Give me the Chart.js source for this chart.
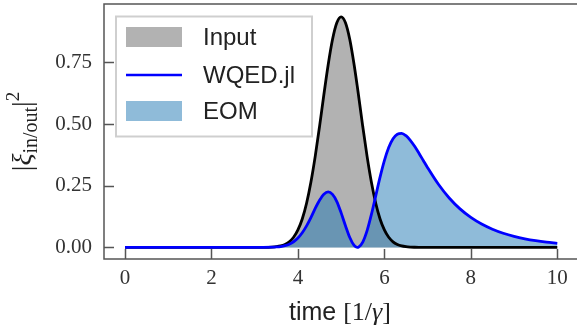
<!DOCTYPE html>
<html>
<head>
<meta charset="utf-8">
<script src="https://cdn.jsdelivr.net/npm/chart.js"></script>
<style>
  html, body { margin: 0; padding: 0; background: #fff; overflow: hidden; }
</style>
</head>
<body>
<canvas id="pulseChart" width="577" height="334"></canvas>
<script>
// time axis in units of 1/gamma
var times = [0, 1, 2, 3, 3.2, 3.4, 3.5,
    3.6, 3.7, 3.8, 3.9, 4.0, 4.1, 4.2, 4.3, 4.4, 4.5, 4.6, 4.7, 4.8, 4.9,
    5.0, 5.1, 5.2, 5.3, 5.37, 5.4, 5.5, 5.6, 5.7, 5.8, 5.9,
    6.0, 6.1, 6.2, 6.3, 6.4, 6.5, 6.6, 6.7, 6.8, 6.9, 7.0,
    7.25, 7.5, 7.75, 8, 8.25, 8.5, 8.75, 9, 9.25, 9.5, 9.75, 10];

// |xi_in|^2
var inputValues = [0, 0, 0, 0, 0.0002, 0.0013, 0.0028,
    0.0059, 0.0119, 0.0227, 0.041, 0.0707, 0.115, 0.179, 0.264, 0.369, 0.490, 0.619, 0.741, 0.843, 0.911,
    0.935, 0.911, 0.843, 0.741, 0.657, 0.619, 0.490, 0.369, 0.264, 0.179, 0.115,
    0.0707, 0.041, 0.0227, 0.0119, 0.0059, 0.0028, 0.0013, 0.0006, 0.0002, 0.0001, 0,
    0, 0, 0, 0, 0, 0, 0, 0, 0, 0, 0, 0];

// |xi_out|^2 from WQED.jl
var wqedValues = [0, 0, 0, 0, 0.0001, 0.0008, 0.0018,
    0.0036, 0.0071, 0.0131, 0.0230, 0.0380, 0.0595, 0.0875, 0.1210, 0.158, 0.191, 0.216, 0.225, 0.215, 0.186,
    0.140, 0.088, 0.040, 0.0078, 0, 0.0009, 0.0217, 0.0680, 0.1336, 0.2091, 0.2848,
    0.3519, 0.4049, 0.4407, 0.4592, 0.4624, 0.4529, 0.4344, 0.4098, 0.3818, 0.3525, 0.3233,
    0.2559, 0.2004, 0.1562, 0.1217, 0.0948, 0.0738, 0.0575, 0.0448, 0.0349, 0.0272, 0.0212, 0.0165];

// EOM solution lies on top of the WQED.jl curve
var eomValues = wqedValues.slice();

var xTicks = [0, 2, 4, 6, 8, 10];
var yTicks = [0, 0.25, 0.5, 0.75];
var legendLabels = ['Input', 'WQED.jl', 'EOM'];

var gray = 'rgba(0, 0, 0, 0.3)';
var lightBlue = 'rgba(31, 119, 180, 0.5)';

function points(vals) {
    return times.map(function (t, i) { return { x: t, y: vals[i] }; });
}

// spines, inward ticks, legend and axis titles
var decorations = {
    id: 'decorations',
    afterDraw: function (chart) {
        var ctx = chart.ctx, a = chart.chartArea;
        var xs = chart.scales.x, ys = chart.scales.y;
        ctx.save();

        // left, top and bottom spines (right one falls just outside the picture)
        ctx.strokeStyle = '#555';
        ctx.lineWidth = 1.5;
        ctx.beginPath();
        ctx.moveTo(chart.width, a.top); ctx.lineTo(a.left, a.top);
        ctx.lineTo(a.left, a.bottom); ctx.lineTo(chart.width, a.bottom);
        ctx.stroke();
        ctx.beginPath();
        xTicks.forEach(function (v) {
            var px = Math.round(xs.getPixelForValue(v)) + 0.5;
            ctx.moveTo(px, a.bottom); ctx.lineTo(px, a.bottom - 10);
        });
        yTicks.forEach(function (v) {
            var py = Math.round(ys.getPixelForValue(v)) + 0.5;
            ctx.moveTo(a.left, py); ctx.lineTo(a.left + 10, py);
        });
        ctx.stroke();

        // legend
        ctx.fillStyle = '#fff';
        ctx.fillRect(116, 16.5, 196, 120);
        ctx.strokeStyle = '#cfcfcf';
        ctx.lineWidth = 2;
        ctx.strokeRect(116, 16.5, 196, 120);

        ctx.fillStyle = gray;
        ctx.fillRect(126, 27, 56, 20);
        ctx.strokeStyle = '#0000ff';
        ctx.lineWidth = 2.5;
        ctx.beginPath();
        ctx.moveTo(126, 75); ctx.lineTo(182, 75);
        ctx.stroke();
        ctx.fillStyle = lightBlue;
        ctx.fillRect(126, 101, 56, 20);

        ctx.fillStyle = '#222';
        ctx.font = '24px "Liberation Sans"';
        ctx.textBaseline = 'middle';
        ctx.textAlign = 'left';
        [37, 75, 111].forEach(function (y, i) {
            ctx.fillText(legendLabels[i], 203, y + 1);
        });

        // x title
        var xParts = [
            { t: 'time ', f: '25px "Liberation Sans"', dy: 0 },
            { t: '[1/', f: '26px "Liberation Serif"', dy: 0 },
            { t: 'γ', f: 'italic 26px "Liberation Serif"', dy: 0 },
            { t: ']', f: '26px "Liberation Serif"', dy: 0 }
        ];
        ctx.textBaseline = 'alphabetic';
        drawParts(ctx, xParts, 340, 320);

        // y title, rotated
        var yParts = [
            { t: '|', f: '28px "Liberation Serif"', dy: 0 },
            { t: 'ξ', f: 'italic 28px "Liberation Serif"', dy: 0 },
            { t: 'in/out', f: '20px "Liberation Serif"', dy: 6 },
            { t: '|', f: '28px "Liberation Serif"', dy: 0 },
            { t: '2', f: '19px "Liberation Serif"', dy: -12 }
        ];
        ctx.translate(31, (a.top + a.bottom) / 2);
        ctx.rotate(-Math.PI / 2);
        drawParts(ctx, yParts, 0, 0);

        ctx.restore();
    }
};

function drawParts(ctx, parts, cx, y) {
    var total = 0;
    parts.forEach(function (p) { ctx.font = p.f; p.w = ctx.measureText(p.t).width; total += p.w; });
    var x = cx - total / 2;
    ctx.fillStyle = '#222';
    ctx.textAlign = 'left';
    parts.forEach(function (p) {
        ctx.font = p.f;
        ctx.fillText(p.t, x, y + p.dy);
        x += p.w;
    });
}

var ctx = document.getElementById('pulseChart').getContext('2d');

var chart = new Chart(ctx, {
    type: 'line',
    data: {
        datasets: [{
            label: 'Input fill',
            data: points(inputValues),
            backgroundColor: gray,
            borderColor: 'rgba(0,0,0,0)',
            borderWidth: 0,
            fill: 'origin',
            order: 4
        }, {
            label: 'EOM',
            data: points(eomValues),
            backgroundColor: lightBlue,
            borderColor: 'rgba(0,0,0,0)',
            borderWidth: 0,
            fill: 'origin',
            order: 3
        }, {
            label: 'Input',
            data: points(inputValues),
            borderColor: '#000',
            borderWidth: 2.8,
            fill: false,
            order: 2
        }, {
            label: 'WQED.jl',
            data: points(wqedValues),
            borderColor: '#0000ff',
            borderWidth: 2.8,
            fill: false,
            order: 1
        }]
    },
    options: {
        responsive: false,
        animation: false,
        devicePixelRatio: 1,
        layout: { padding: { left: 0, top: 4, right: 0, bottom: 0 } },
        elements: {
            point: { radius: 0 },
            line: { cubicInterpolationMode: 'monotone', borderJoinStyle: 'round' }
        },
        plugins: {
            legend: { display: false },
            tooltip: { enabled: false }
        },
        scales: {
            x: {
                type: 'linear',
                min: -0.486,
                max: 10.456,
                afterBuildTicks: function (s) { s.ticks = xTicks.map(function (v) { return { value: v }; }); },
                afterFit: function (s) {
                    s.height = 75;
                    s.paddingLeft = 0; s.paddingRight = 0;
                },
                grid: { display: false, drawTicks: false },
                border: { display: false },
                ticks: {
                    padding: 7,
                    color: '#333',
                    font: { family: '"Liberation Serif"', size: 21 },
                    maxRotation: 0
                }
            },
            y: {
                min: -0.047,
                max: 0.987,
                afterBuildTicks: function (s) { s.ticks = yTicks.map(function (v) { return { value: v }; }); },
                afterFit: function (s) {
                    s.width = 104;
                    s.paddingTop = 0; s.paddingBottom = 0;
                },
                grid: { display: false, drawTicks: false },
                border: { display: false },
                ticks: {
                    padding: 12,
                    color: '#333',
                    font: { family: '"Liberation Serif"', size: 21 },
                    callback: function (v) { return v.toFixed(2); }
                }
            }
        }
    },
    plugins: [decorations]
});
</script>
</body>
</html>
